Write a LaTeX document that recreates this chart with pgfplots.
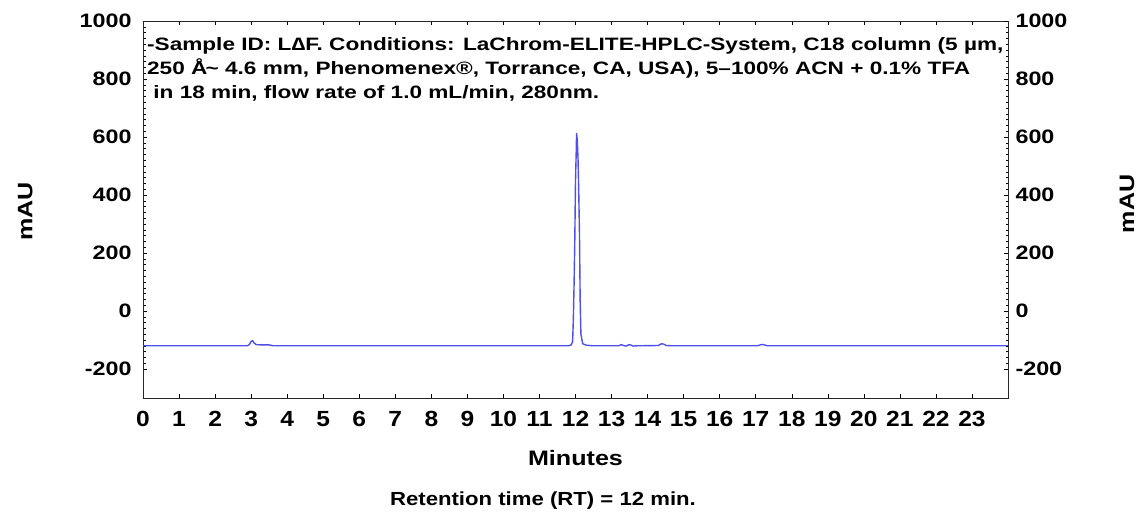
\documentclass[border=0pt]{standalone}
\usepackage{pgfplots}
\pgfplotsset{compat=1.18}
\usepackage{fontspec}
\setmainfont{Liberation Sans}
\newfontfamily\fYtick[FakeStretch=1.2]{Liberation Sans}
\newfontfamily\fXtick[FakeStretch=1.12]{Liberation Sans}
\newfontfamily\fTitle[FakeStretch=1.26]{Liberation Sans}
\newfontfamily\fLabel[FakeStretch=1.2]{Liberation Sans}
\newfontfamily\fRT[FakeStretch=1.17]{Liberation Sans}
\definecolor{trace}{RGB}{80,80,232}
\begin{document}
\begin{tikzpicture}
\path[use as bounding box] (0bp,0bp) rectangle (1143bp,513bp);
\pgfplotsset{
  common/.style={
    at={(143bp,115bp)}, anchor=south west,
    scale only axis, width=865bp, height=377bp,
    xmin=0, xmax=24, ymin=-300, ymax=1000,
    ytick={-200,0,200,400,600,800,1000},
    minor y tick num=9,
    tick align=inside,
    major tick length=4bp, minor tick length=2.5bp,
    every tick/.style={black, line width=0.5bp},
    axis line style={black!85, line width=0.9bp},
    /pgf/number format/assume math mode=true,
    /pgf/number format/1000 sep={},
    yticklabel style={font=\fYtick\fontsize{19.5}{22}\selectfont\bfseries},
    xticklabel style={font=\fXtick\fontsize{22}{24}\selectfont\bfseries},
    label style={font=\fLabel\fontsize{21}{24}\selectfont\bfseries},
    clip mode=individual,
  }
}
\begin{axis}[common,
  xtick={0,1,...,23},
  xticklabel style={yshift=-10bp},
  yticklabel style={xshift=-8bp},
  ylabel={mAU},
  ylabel style={at={(rel axis cs:-0.136,0.495)}, anchor=center, rotate=0},
  xlabel={Minutes},
  xlabel style={at={(rel axis cs:0.5,-0.16)}, anchor=center},
]
\addplot[trace, line width=1.4bp, line join=round] coordinates {
(0,-120) (2.90,-120) (2.96,-114) (3.00,-105) (3.04,-102) (3.08,-110) (3.14,-116)
(3.30,-117) (3.50,-117) (3.62,-120) (6.00,-120) (9.00,-120) (11.80,-120)
(11.88,-117) (11.92,-105) (11.94,-30) (11.96,90) (11.98,240) (12.00,450)
(12.02,550) (12.03,612) (12.05,590) (12.07,525) (12.09,410) (12.11,270)
(12.13,30) (12.15,-80) (12.20,-113) (12.30,-118) (12.50,-120) (13.20,-120)
(13.27,-116) (13.33,-119) (13.40,-121) (13.47,-117) (13.53,-117) (13.60,-121)
(13.70,-120) (14.30,-119) (14.38,-113) (14.44,-114) (14.52,-119) (14.70,-120)
(17.05,-120) (17.15,-116) (17.22,-116) (17.32,-120) (20.00,-120) (24.00,-120)
};
\node[anchor=north west, align=left, inner sep=0pt,
      font=\fTitle\fontsize{18}{24.5}\selectfont\bfseries]
  at (rel axis cs:0.0046,0.958)
  {-Sample ID: L∆F. Conditions: LaChrom-ELITE-HPLC-System, C18 column (5 µm,\\
   250 Å\kern-0.1em\~{} 4.6 mm, Phenomenex®, Torrance, CA, USA), 5–100\% ACN + 0.1\% TFA\\
   \ in 18 min, flow rate of 1.0 mL/min, 280nm.};
\node[anchor=center, font=\fRT\fontsize{19}{22}\selectfont\bfseries]
  at (rel axis cs:0.4624,-0.273) {Retention time (RT) = 12 min.};
\end{axis}
\begin{axis}[common,
  axis x line=none,
  axis y line*=right,
  yticklabel pos=right,
  yticklabel style={xshift=4bp},
  ylabel={mAU},
  ylabel style={at={(rel axis cs:1.1376,0.515)}, anchor=center, rotate=0},
]
\end{axis}
\end{tikzpicture}
\end{document}
